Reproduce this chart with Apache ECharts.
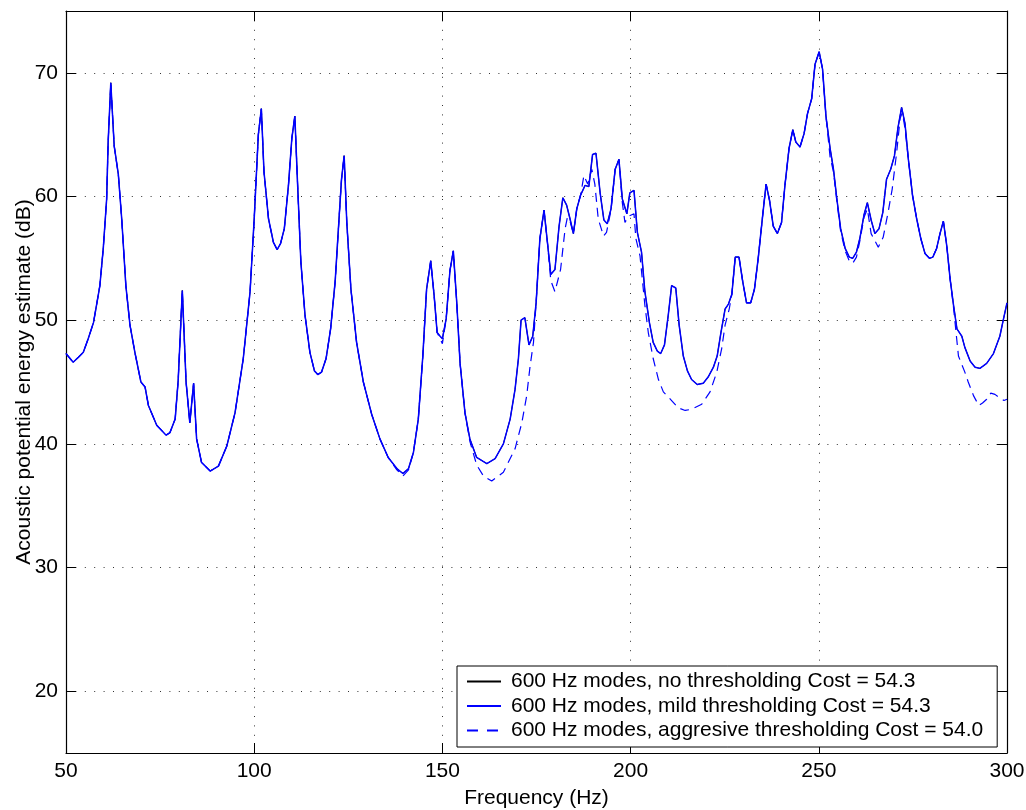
<!DOCTYPE html>
<html>
<head>
<meta charset="utf-8">
<script src="https://cdn.jsdelivr.net/npm/echarts@6/dist/echarts.min.js"></script>
<style>
  html, body { margin: 0; padding: 0; background: #fff; }
  #chart { width: 1026px; height: 810px; }
</style>
</head>
<body>
<div id="chart"></div>
<script>
// Frequency axis ticks and level axis range
const xTicks = [50, 100, 150, 200, 250, 300];
const yRange = [15, 75];

const seriesNames = [
  '600 Hz modes, no thresholding Cost = 54.3',
  '600 Hz modes, mild thresholding Cost = 54.3',
  '600 Hz modes, aggresive thresholding Cost = 54.0'
];

// No thresholding and mild thresholding give the same response (Hz, dB)
const freqFull = [
  50.0, 51.9, 53.3, 54.6, 55.9, 57.3, 58.1, 59.0, 59.9, 60.8, 61.2, 61.9, 62.8, 63.9, 64.8, 65.9,
  67.0, 68.3, 69.9, 71.0, 71.9, 74.1, 76.6, 77.6, 79.0, 79.8, 80.9, 81.9, 82.9, 83.9, 84.7, 86.0,
  88.3, 90.5, 92.7, 94.9, 97.1, 98.9, 100.0, 101.1, 101.9, 102.6, 103.8, 105.1, 106.1, 107.0, 108.0, 109.1,
  110.0, 110.8, 111.5, 112.4, 113.5, 114.8, 116.0, 116.9, 117.9, 119.1, 120.3, 121.5, 122.6, 123.2, 123.9, 124.6,
  125.7, 127.2, 129.0, 131.2, 133.4, 135.6, 137.9, 139.5, 141.0, 142.3, 143.6, 144.8, 145.8, 146.9, 147.8, 148.6,
  149.4, 150.0, 151.0, 152.0, 152.9, 153.8, 154.7, 156.0, 157.3, 159.1, 161.8, 164.0, 166.2, 168.0, 169.3, 170.2,
  170.9, 171.9, 173.0, 174.0, 174.9, 175.9, 177.0, 177.9, 178.8, 179.9, 181.0, 182.0, 183.0, 183.9, 184.8, 185.7,
  186.7, 187.9, 188.9, 189.9, 190.8, 191.9, 192.9, 193.8, 194.8, 195.9, 196.9, 197.8, 199.0, 199.8, 200.9, 201.8,
  202.9, 203.8, 205.0, 206.0, 207.1, 208.0, 209.0, 210.0, 210.9, 212.0, 212.9, 214.0, 215.1, 216.2, 217.7, 219.3,
  220.6, 222.0, 223.0, 224.0, 225.1, 226.0, 226.9, 227.8, 228.8, 229.8, 230.8, 231.9, 232.9, 233.9, 235.1, 236.0,
  236.9, 237.9, 239.0, 240.1, 241.0, 242.1, 243.1, 243.9, 245.0, 246.1, 247.0, 248.1, 249.0, 250.1, 251.0, 251.9,
  253.0, 253.9, 254.8, 255.8, 257.0, 258.1, 259.0, 260.0, 260.9, 262.0, 262.9, 263.9, 264.9, 266.0, 267.0, 268.0,
  269.1, 270.1, 271.0, 272.0, 272.9, 273.8, 274.9, 276.0, 277.1, 278.2, 279.4, 280.3, 281.3, 282.2, 283.1, 284.0,
  284.9, 285.8, 286.7, 288.0, 288.8, 290.2, 291.5, 292.8, 294.6, 296.4, 298.1, 299.0, 300.0
];
const dbFull = [
  47.3, 46.6, 47.0, 47.4, 48.5, 49.8, 51.2, 52.8, 55.8, 59.8, 64.4, 69.2, 64.1, 61.8, 58.2, 52.8,
  49.6, 47.4, 45.0, 44.6, 43.1, 41.5, 40.7, 40.9, 42.0, 45.1, 52.4, 45.0, 41.7, 44.9, 40.4, 38.5,
  37.8, 38.2, 39.8, 42.5, 46.9, 52.3, 58.2, 65.0, 67.1, 62.0, 58.2, 56.3, 55.7, 56.2, 57.4, 60.9,
  64.7, 66.5, 61.2, 54.7, 50.4, 47.4, 45.9, 45.6, 45.8, 46.9, 49.3, 53.1, 58.5, 61.4, 63.3, 57.9,
  52.5, 48.2, 45.0, 42.4, 40.4, 38.9, 38.0, 37.6, 38.0, 39.3, 42.0, 47.1, 52.5, 54.8, 52.0, 49.0,
  48.7, 48.5, 50.1, 54.0, 55.6, 51.5, 46.5, 42.5, 40.4, 38.9, 38.4, 38.8, 40.0, 42.0, 44.4, 46.9,
  50.0, 50.2, 48.0, 48.7, 51.4, 56.6, 58.9, 56.3, 53.7, 54.1, 57.6, 59.9, 59.3, 58.2, 57.0, 59.0,
  60.1, 60.9, 60.8, 63.4, 63.5, 60.3, 58.1, 57.8, 59.0, 62.2, 63.0, 59.8, 58.6, 60.3, 60.5, 57.1,
  55.5, 52.3, 49.8, 48.2, 47.5, 47.3, 48.0, 50.4, 52.8, 52.6, 49.6, 47.1, 45.9, 45.2, 44.8, 44.9,
  45.4, 46.2, 47.1, 49.0, 50.9, 51.3, 52.1, 55.1, 55.1, 53.1, 51.4, 51.4, 52.5, 55.0, 58.5, 61.0,
  59.7, 57.6, 57.0, 57.9, 60.9, 63.9, 65.4, 64.4, 64.0, 65.1, 66.7, 67.9, 70.7, 71.7, 70.3, 66.5,
  63.9, 62.2, 59.8, 57.4, 55.8, 55.1, 55.0, 55.5, 56.6, 58.5, 59.5, 58.1, 57.0, 57.4, 58.7, 61.4,
  62.2, 63.3, 65.5, 67.2, 65.9, 63.0, 60.1, 58.2, 56.6, 55.4, 55.0, 55.1, 55.8, 57.0, 58.0, 56.0,
  53.3, 51.2, 49.3, 48.7, 47.8, 46.7, 46.2, 46.1, 46.5, 47.3, 48.7, 50.0, 51.4
];

// Aggressive thresholding response (Hz, dB)
const freqAggr = [
  50.0, 51.9, 53.3, 54.6, 55.9, 57.3, 58.1, 59.0, 59.9, 60.8, 61.2, 61.9, 62.8, 63.9, 64.8, 65.9,
  67.0, 68.3, 69.9, 71.0, 71.9, 74.1, 76.6, 77.6, 79.0, 79.8, 80.9, 81.9, 82.9, 83.9, 84.7, 86.0,
  88.3, 90.5, 92.7, 94.9, 97.1, 98.9, 100.0, 101.1, 101.9, 102.6, 103.8, 105.1, 106.1, 107.0, 108.0, 109.1,
  110.0, 110.8, 111.5, 112.4, 113.5, 114.8, 116.0, 116.9, 117.9, 119.1, 120.3, 121.5, 122.6, 123.2, 123.9, 124.6,
  125.7, 127.2, 129.0, 131.2, 133.4, 135.6, 137.9, 139.5, 141.0, 142.3, 143.6, 144.8, 145.8, 146.9, 147.8, 148.6,
  149.4, 150.0, 151.0, 152.0, 152.9, 153.8, 154.7, 156.0, 157.3, 159.1, 160.9, 163.1, 166.2, 169.3, 171.1, 172.4,
  173.3, 174.2, 174.9, 175.9, 177.0, 177.9, 178.8, 179.9, 181.4, 182.6, 183.2, 183.9, 184.8, 185.7, 186.7, 187.6,
  188.6, 189.7, 190.5, 191.4, 192.8, 193.6, 194.8, 195.9, 196.9, 197.8, 198.5, 199.4, 199.8, 200.9, 201.4, 202.5,
  203.8, 204.7, 206.0, 207.4, 208.7, 210.9, 212.7, 214.5, 216.2, 218.9, 221.1, 222.9, 224.2, 225.1, 226.2, 226.9,
  227.8, 228.8, 229.8, 230.8, 231.9, 232.9, 233.9, 235.1, 236.0, 236.9, 237.9, 239.0, 240.1, 241.0, 242.1, 243.1,
  243.9, 245.0, 246.1, 247.0, 248.1, 249.0, 250.1, 251.0, 251.9, 253.0, 253.9, 254.8, 255.8, 257.0, 258.1, 259.0,
  260.0, 260.9, 262.0, 262.9, 263.9, 265.8, 267.1, 268.4, 269.5, 270.7, 271.6, 272.2, 272.9, 273.8, 274.9, 276.0,
  277.1, 278.2, 279.4, 280.3, 281.3, 282.2, 283.1, 284.0, 284.9, 285.8, 286.2, 287.1, 288.8, 289.7, 291.1, 292.5,
  293.5, 294.6, 295.7, 296.8, 297.7, 299.2, 300.0
];
const dbAggr = [
  47.3, 46.6, 47.0, 47.4, 48.5, 49.8, 51.2, 52.8, 55.8, 59.8, 64.4, 69.2, 64.1, 61.8, 58.2, 52.8,
  49.6, 47.4, 45.0, 44.6, 43.1, 41.5, 40.7, 40.9, 42.0, 45.1, 52.4, 45.0, 41.7, 44.9, 40.4, 38.5,
  37.8, 38.2, 39.8, 42.5, 46.9, 52.3, 58.2, 65.0, 67.1, 62.0, 58.2, 56.3, 55.7, 56.2, 57.4, 60.9,
  64.7, 66.5, 61.2, 54.7, 50.4, 47.4, 45.9, 45.6, 45.8, 46.9, 49.3, 53.1, 58.5, 61.4, 63.3, 57.9,
  52.5, 48.2, 45.0, 42.4, 40.4, 38.9, 37.9, 37.4, 37.9, 39.3, 42.0, 47.1, 52.5, 54.8, 52.0, 49.0,
  48.5, 48.1, 50.1, 54.0, 55.6, 51.5, 46.5, 42.5, 40.2, 38.3, 37.4, 37.0, 37.7, 39.6, 41.7, 43.9,
  46.3, 48.2, 51.4, 56.6, 58.9, 56.3, 53.2, 52.3, 54.1, 57.4, 58.3, 58.0, 57.0, 59.0, 60.1, 61.7,
  61.0, 62.2, 61.0, 58.2, 56.8, 57.1, 58.9, 62.2, 63.0, 59.5, 57.9, 58.4, 58.3, 58.6, 56.6, 55.2,
  51.2, 49.0, 46.9, 45.2, 44.2, 43.5, 42.9, 42.7, 42.8, 43.2, 44.2, 45.8, 47.7, 49.6, 50.9, 52.1,
  55.1, 55.1, 53.1, 51.4, 51.4, 52.5, 55.0, 58.5, 61.0, 59.7, 57.6, 57.0, 57.9, 60.9, 63.9, 65.4,
  64.4, 64.0, 65.1, 66.7, 67.9, 70.7, 71.7, 70.3, 66.5, 63.2, 62.0, 59.6, 57.2, 55.6, 54.8, 54.6,
  55.1, 56.4, 58.3, 59.0, 57.0, 55.9, 56.7, 58.7, 60.6, 63.6, 66.3, 66.8, 65.5, 63.0, 60.1, 58.2,
  56.6, 55.4, 55.0, 55.1, 55.8, 57.0, 58.0, 56.0, 53.3, 51.0, 49.8, 47.1, 45.8, 45.0, 43.9, 43.1,
  43.3, 43.6, 44.1, 44.0, 43.8, 43.5, 43.6
];

const pairs = (xs, ys) => xs.map((x, i) => [x, ys[i]]);

const FONT = '"Liberation Sans", Arial, Helvetica, sans-serif';
const FS = 21;
const gridDots = { color: '#333', width: 1, type: [1, 8.4] };
const frame = { color: '#000', width: 1.2 };
const innerTicks = { show: true, inside: true, length: 10, lineStyle: { color: '#000', width: 1 } };

const chart = echarts.init(document.getElementById('chart'), null, { renderer: 'canvas' });

chart.setOption({
  animation: false,
  backgroundColor: '#fff',
  textStyle: { fontFamily: FONT },
  grid: { left: 66, right: 19, top: 11, bottom: 57, containLabel: false, outerBoundsMode: 'none' },
  xAxis: [
    {
      type: 'value', min: xTicks[0], max: xTicks[xTicks.length - 1], interval: 50,
      name: 'Frequency (Hz)', nameLocation: 'middle', nameGap: 35, nameMoveOverlap: false,
      nameTextStyle: { fontFamily: FONT, fontSize: FS, color: '#000' },
      axisLine: { show: true, onZero: false, lineStyle: frame },
      axisTick: innerTicks,
      axisLabel: { fontFamily: FONT, fontSize: FS, color: '#000', margin: 8 },
      splitLine: { show: true, lineStyle: gridDots }
    },
    {
      type: 'value', position: 'top', min: xTicks[0], max: xTicks[xTicks.length - 1], interval: 50,
      axisLine: { show: true, onZero: false, lineStyle: frame },
      axisTick: innerTicks,
      axisLabel: { show: false },
      splitLine: { show: false }
    }
  ],
  yAxis: [
    {
      type: 'value', min: yRange[0], max: yRange[1], splitNumber: 6,
      name: 'Acoustic potential energy estimate (dB)', nameLocation: 'middle', nameGap: 31, nameMoveOverlap: false,
      nameTextStyle: { fontFamily: FONT, fontSize: FS, color: '#000' },
      axisLine: { show: true, onZero: false, lineStyle: frame },
      axisTick: innerTicks,
      axisLabel: { fontFamily: FONT, fontSize: FS, color: '#000', margin: 8, showMinLabel: false, showMaxLabel: false },
      splitLine: { show: true, lineStyle: gridDots }
    },
    {
      type: 'value', position: 'right', min: yRange[0], max: yRange[1], splitNumber: 6,
      axisLine: { show: true, onZero: false, lineStyle: frame },
      axisTick: innerTicks,
      axisLabel: { show: false },
      splitLine: { show: false }
    }
  ],
  legend: {
    orient: 'vertical', left: 457, top: 666,
    data: [
      { name: seriesNames[0] },
      { name: seriesNames[1] },
      { name: seriesNames[2], lineStyle: { type: [11, 9] } }
    ],
    backgroundColor: '#fff', borderColor: '#000', borderWidth: 1, borderRadius: 0,
    padding: [5, 14, 6, 9],
    itemWidth: 34, itemHeight: 14, itemGap: 3.5,
    itemStyle: { opacity: 0 },
    textStyle: { fontFamily: FONT, fontSize: FS, color: '#000', lineHeight: 21, padding: [0, 0, 0, 5] }
  },
  series: [
    {
      name: seriesNames[0], type: 'line', data: pairs(freqFull, dbFull),
      symbol: 'none', showSymbol: false, z: 2,
      lineStyle: { color: '#000', width: 1 }, itemStyle: { color: '#000' }
    },
    {
      name: seriesNames[1], type: 'line', data: pairs(freqFull, dbFull),
      symbol: 'none', showSymbol: false, z: 3,
      lineStyle: { color: '#0000ff', width: 1.5 }, itemStyle: { color: '#0000ff' }
    },
    {
      name: seriesNames[2], type: 'line', data: pairs(freqAggr, dbAggr),
      symbol: 'none', showSymbol: false, z: 4,
      lineStyle: { color: '#0000ff', width: 1.2, type: [9, 6] }, itemStyle: { color: '#0000ff' }
    }
  ]
});
</script>
</body>
</html>
